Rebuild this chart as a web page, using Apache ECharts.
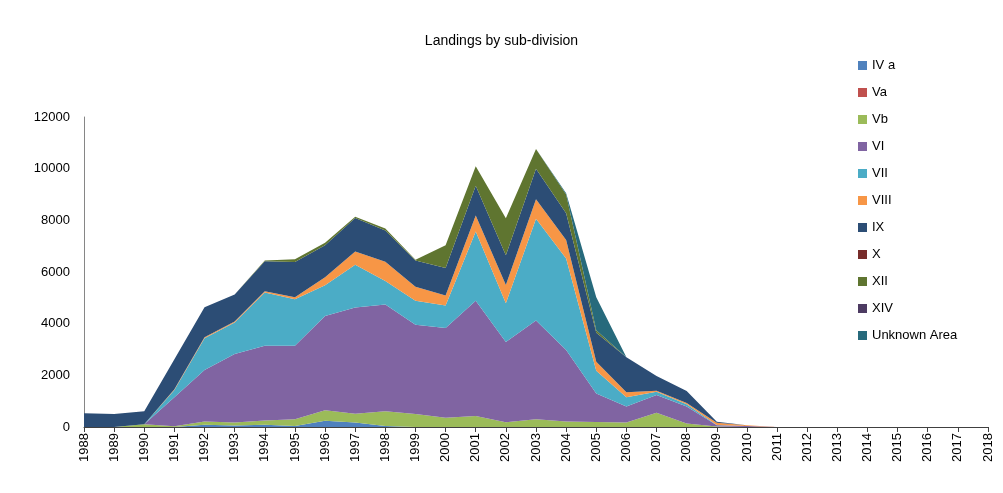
<!DOCTYPE html>
<html>
<head>
<meta charset="utf-8">
<script src="https://cdn.jsdelivr.net/npm/echarts@6/dist/echarts.min.js"></script>
<style>
html,body{margin:0;padding:0;background:#fff;}
#chart{width:1003px;height:493px;}
</style>
</head>
<body>
<div id="chart"></div>
<script>
const years = ['1988','1989','1990','1991','1992','1993','1994','1995','1996','1997','1998','1999','2000','2001','2002','2003','2004','2005','2006','2007','2008','2009','2010','2011','2012','2013','2014','2015','2016','2017','2018'];
const yTicks = [0, 2000, 4000, 6000, 8000, 10000, 12000];

//                 1988 89  90   91   92   93   94   95   96   97   98   99   00   01   02   03   04   05   06   07   08  09  10 11 12 13 14 15 16 17 18
const IVa     = [   0,   0,   0,   0,  90,  60,  90,  40, 240, 170,  40,   0,   0,   0,   0,   0,   0,   0,   0,   0,   0,  0,  0, 0, 0, 0, 0, 0, 0, 0, 0];
const Va      = [   0,   0,   0,   0,   0,   0,   0,   0,   0,   0,   0,   0,   0,   0,   0,   0,   0,   0,   0,   0,   0,  0,  0, 0, 0, 0, 0, 0, 0, 0, 0];
const Vb      = [   0,   0, 110,  30, 120, 110, 160, 260, 410, 340, 570, 500, 360, 430, 180, 300, 210, 190, 170, 555, 140, 20,  0, 0, 0, 0, 0, 0, 0, 0, 0];
const VI      = [   0,   0,   0,1120,2000,2660,2900,2850,3650,4120,4130,3460,3470,4455,3110,3820,2775,1110, 620, 683, 650, 50, 40, 0, 0, 0, 0, 0, 0, 0, 0];
const VII     = [   0,   0,   0, 280,1227,1212,2052,1795,1187,1650, 915, 930, 878,2685,1497,3943,3534, 877, 361, 130,  90, 10,  0, 0, 0, 0, 0, 0, 0, 0, 0];
const VIII    = [   0,   0,   0,  30,  40,  39,  53,  77, 310, 517, 737, 542, 387, 619, 710, 756, 724, 349, 194,  38,  50, 80, 30, 0, 0, 0, 0, 0, 0, 0, 0];
const IX      = [ 530, 500, 500,1158,1161,1050,1161,1367,1236,1290,1213,1018,1058,1147,1149,1173,1033,1123,1355, 568, 460, 40,  0, 0, 0, 0, 0, 0, 0, 0, 0];
const X       = [   0,   0,   0,   0,   0,   0,   0,   0,   0,   0,   0,   0,   0,   0,   0,   0,   0,   0,   0,   0,   0,  0,  0, 0, 0, 0, 0, 0, 0, 0, 0];
const XII     = [   0,   0,   0,   0,   0,   0,  30, 100, 100,  50,  80,  20, 880, 760,1430, 770, 720, 100,   0,   0,   0,  0,  0, 0, 0, 0, 0, 0, 0, 0, 0];
const XIV     = [   0,   0,   0,   0,   0,   0,   0,   0,   0,   0,   0,   0,   0,   0,   0,   0,   0,   0,   0,   0,   0,  0,  0, 0, 0, 0, 0, 0, 0, 0, 0];
const Unknown = [   0,   0,   0,   0,   0,   0,   0,   0,   0,   0,   0,   0,   0,   0,   0,   0,  50,1270,   0,   0,   0,  0,  0, 0, 0, 0, 0, 0, 0, 0, 0];

const seriesNames = ['IV a','Va','Vb','VI','VII','VIII','IX','X','XII','XIV','Unknown Area'];
const seriesData = [IVa, Va, Vb, VI, VII, VIII, IX, X, XII, XIV, Unknown];
const colors = ['#4F81BD','#C0504D','#9BBB59','#8064A2','#4BACC6','#F79646','#2C4D75','#772C2A','#5F7530','#4D3B62','#276A7C'];

const FONT = "'Liberation Sans', Arial, sans-serif";
const chart = echarts.init(document.getElementById('chart'), null, {renderer:'canvas'});
chart.setOption({
  animation: false,
  backgroundColor: '#fff',
  color: colors,
  title: {
    text: 'Landings by sub-division',
    left: 'center',
    top: 29,
    textStyle: {fontFamily: FONT, fontSize: 14, fontWeight: 'normal', color: '#000'}
  },
  legend: {
    orient: 'vertical',
    left: 858,
    top: 59,
    padding: 0,
    icon: 'rect',
    itemWidth: 9,
    itemHeight: 9,
    itemGap: 14,
    textStyle: {fontFamily: FONT, fontSize: 13, color: '#000'},
    data: seriesNames
  },
  grid: {left: 84, right: 15, top: 117, bottom: 66, containLabel: false},
  xAxis: {
    type: 'category',
    data: years,
    boundaryGap: false,
    axisLine: {lineStyle: {color: '#404040', width: 1}},
    axisTick: {show: true, length: 5, lineStyle: {color: '#404040'}, alignWithLabel: true},
    axisLabel: {rotate: 90, margin: 6, interval: 0, fontFamily: FONT, fontSize: 13, color: '#000'},
    splitLine: {show: false}
  },
  yAxis: {
    type: 'value',
    min: yTicks[0],
    max: yTicks[yTicks.length - 1],
    interval: yTicks[1] - yTicks[0],
    axisLine: {show: true, lineStyle: {color: '#868686', width: 1}},
    axisTick: {show: false},
    axisLabel: {margin: 14, fontFamily: FONT, fontSize: 13, color: '#000', formatter: v => String(v)},
    splitLine: {show: false}
  },
  series: seriesNames.map((n, i) => ({
    name: n,
    type: 'line',
    stack: 'total',
    data: seriesData[i],
    showSymbol: false,
    symbol: 'none',
    lineStyle: {width: 0},
    areaStyle: {color: colors[i], opacity: 1},
    itemStyle: {color: colors[i]}
  }))
});
</script>
</body>
</html>
